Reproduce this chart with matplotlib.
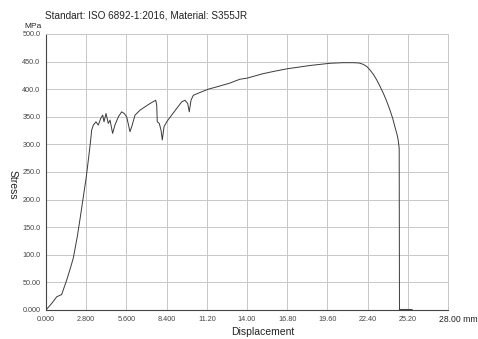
import matplotlib
matplotlib.use("Agg")
import matplotlib.pyplot as plt
import numpy as np

plt.rcParams["font.family"] = ["Liberation Sans", "DejaVu Sans"]

# Tensile test curve
displacement = [
    0.0, 0.4, 0.75, 1.09, 1.25, 1.44, 1.7, 1.9, 2.18, 2.4, 2.6, 2.8, 2.95, 3.1,
    3.18, 3.3, 3.48, 3.64, 3.81, 3.95, 4.04, 4.18, 4.34, 4.46, 4.64, 4.8, 5.04,
    5.27, 5.45, 5.62, 5.85, 5.97, 6.2, 6.55, 6.89, 7.24, 7.64, 7.71, 7.75, 7.89,
    8.01, 8.1, 8.22, 8.41, 8.75, 9.1, 9.45, 9.68, 9.87, 9.98, 10.1, 10.26, 10.72,
    11.3, 12.0, 12.8, 13.5, 14.0, 15.1, 16.0, 16.8, 17.6, 18.4, 19.1, 19.8, 20.7,
    21.4, 21.8, 22.1, 22.35, 22.56, 22.8, 23.03, 23.25, 23.49, 23.7, 23.96, 24.15,
    24.3, 24.45, 24.53, 24.6, 24.62, 24.65, 25.5,
]
stress = [
    0, 12, 24, 28, 40, 54, 76, 94, 133, 170, 205, 240, 272, 305,
    326, 335, 341, 335, 347, 353, 341, 356, 338, 344, 320, 335, 350,
    359, 356, 350, 323, 332, 353, 362, 368, 374, 380, 371, 341, 338,
    326, 308, 332, 341, 353, 365, 377, 380, 374, 359, 380, 389, 394,
    400, 405, 411, 418, 420, 428, 433, 437, 440, 443, 445, 447, 448,
    448, 447.5, 445, 441, 435, 427, 417, 406, 393, 380, 362, 347,
    332, 318, 308, 293, 0, 1, 1,
]

x_ticks = [0, 2.8, 5.6, 8.4, 11.2, 14.0, 16.8, 19.6, 22.4, 25.2, 28.0]
x_labels = ["0.000", "2.800", "5.600", "8.400", "11.20", "14.00", "16.80",
            "19.60", "22.40", "25.20", ""]
y_ticks = [0, 50, 100, 150, 200, 250, 300, 350, 400, 450, 500]
y_labels = ["0.000", "50.00", "100.0", "150.0", "200.0", "250.0", "300.0",
            "350.0", "400.0", "450.0", "500.0"]

W, H = 478, 339
fig = plt.figure(figsize=(W / 100, H / 100), dpi=100)
ax = fig.add_axes([46 / W, 1 - 310 / H, (448 - 46) / W, (310 - 34) / H])

ax.plot(displacement, stress, color="#3a3a3a", linewidth=0.7)
ax.set_xlim(0, 28)
ax.set_ylim(0, 500)
ax.set_xticks(x_ticks)
ax.set_xticklabels(x_labels)
ax.set_yticks(y_ticks)
ax.set_yticklabels(y_labels)
ax.tick_params(length=0, labelsize=5.2, colors="#444444", pad=4)
ax.grid(True, color="#c8c8c8", linewidth=0.7)
ax.set_axisbelow(True)
for side in ("top", "right"):
    ax.spines[side].set_color("#c8c8c8")
    ax.spines[side].set_linewidth(0.7)
for side in ("left", "bottom"):
    ax.spines[side].set_color("#444444")
    ax.spines[side].set_linewidth(0.8)

ax.annotate("28.00 mm", xy=(28, 0), xycoords=("data", "axes fraction"),
            xytext=(-6.5, -7), textcoords="offset points",
            ha="left", va="center", fontsize=6.2, color="#222222")

fig.text(45 / W, 1 - 15 / H, "Standart: ISO 6892-1:2016, Material: S355JR",
         fontsize=7.2, ha="left", va="center", color="#222222")
fig.text(24 / W, 1 - 27 / H, "MPa", fontsize=6, ha="left", va="center",
         color="#222222")
fig.text(13 / W, 1 - 185 / H, "Stress", fontsize=7.5, rotation=270,
         ha="center", va="center", color="#222222")
fig.text(263 / W, 1 - 332 / H, "Displacement", fontsize=7.5,
         ha="center", va="center", color="#222222")

fig.savefig("out.png", dpi=100)
